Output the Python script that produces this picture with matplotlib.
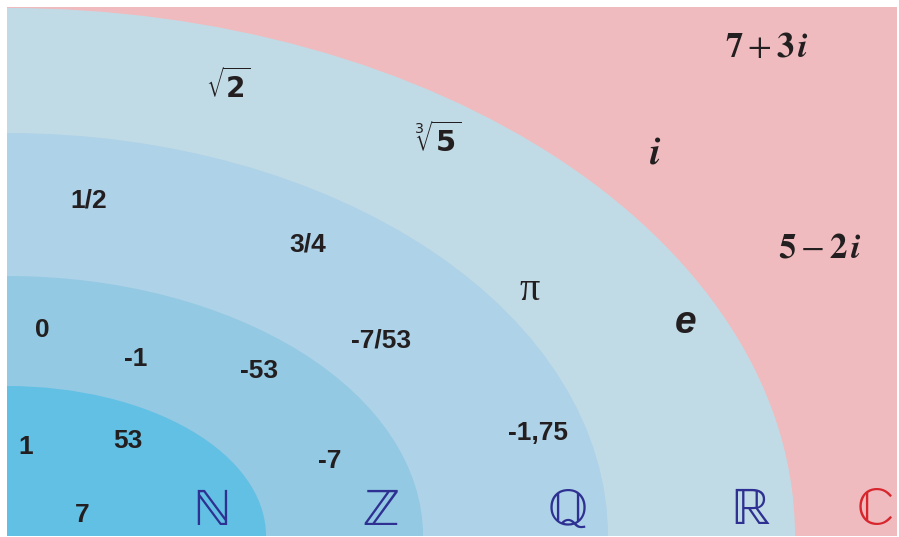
import matplotlib
matplotlib.use("Agg")
import matplotlib.pyplot as plt
from matplotlib.patches import Ellipse, Rectangle

plt.rcParams['mathtext.fontset'] = 'stix'

# ---- data ----
set_symbols = ['ℕ', 'ℤ', 'ℚ', 'ℝ', 'ℂ']
set_semi_x = [259, 416, 601, 788]        # horizontal semi-axes of the nested regions (px)
set_semi_y = [150, 260, 403, 528]        # vertical semi-axes (px)
set_colors = ['#62C0E4', '#93C9E3', '#AED2E8', '#C1DBE6']
outer_color = '#EFBBBE'
symbol_pos = [(212, 525), (381, 525), (568, 525), (751, 524), (875, 524)]
symbol_colors = ['#2E3192', '#2E3192', '#2E3192', '#2E3192', '#D7262E']

number_labels = ['7', '1', '53', '0', '-1', '-53', '-7', '1/2', '3/4', '-7/53', '-1,75']
number_pos = [(82, 522), (26, 454), (128, 448), (42, 337), (136, 366), (259, 378),
              (330, 468), (89, 207), (308, 251), (381, 347), (538, 440)]

# ---- figure ----
fig = plt.figure(figsize=(8.99, 5.37), dpi=100)
ax = fig.add_axes([0, 0, 1, 1])
ax.set_xlim(0, 899)
ax.set_ylim(537, 0)
ax.axis('off')

frame = Rectangle((7, 7), 890, 529, facecolor=outer_color, edgecolor='none', zorder=0)
ax.add_patch(frame)
origin = (7, 536)
for i in range(len(set_semi_x) - 1, -1, -1):
    e = Ellipse(origin, 2 * set_semi_x[i], 2 * set_semi_y[i], facecolor=set_colors[i],
                edgecolor='none', zorder=1 + (len(set_semi_x) - i))
    ax.add_patch(e)
    e.set_clip_path(frame)

for s, (x, y), c in zip(set_symbols, symbol_pos, symbol_colors):
    ax.text(x, y, s, fontsize=38, family=['STIXGeneral', 'DejaVu Serif'], color=c, ha='center',
            va='baseline', zorder=10)

txt_col = '#231F20'
for s, (x, y) in zip(number_labels, number_pos):
    ax.text(x, y, s, fontsize=19, family='Liberation Sans', weight='bold',
            color=txt_col, ha='center', va='baseline', zorder=10)

# irrational / complex labels
ax.text(228, 86, r'$\sqrt{\mathbf{2}}$', fontsize=20, color=txt_col, ha='center', va='center',
        math_fontfamily='dejavusans', zorder=10)
ax.text(438, 140, r'$\sqrt[3]{\mathbf{5}}$', fontsize=21, color=txt_col, ha='center', va='center',
        math_fontfamily='dejavusans', zorder=10)
ax.text(530, 300, 'π', fontsize=29, family='Liberation Serif', color=txt_col,
        ha='center', va='baseline', zorder=10)
ax.text(686, 333, 'e', fontsize=28, family='Liberation Sans', weight='bold', style='italic',
        color=txt_col, ha='center', va='baseline', zorder=10)
ax.text(767, 57, r'$\mathbf{7}+\mathbf{3}\,\mathbfit{i}$', fontsize=25, color=txt_col,
        ha='center', va='baseline', zorder=10)
ax.text(655, 164, r'$\mathbfit{i}$', fontsize=28, color=txt_col, ha='center', va='baseline', zorder=10)
ax.text(820, 258, r'$\mathbf{5}-\mathbf{2}\,\mathbfit{i}$', fontsize=25, color=txt_col,
        ha='center', va='baseline', zorder=10)

fig.savefig('out.png', dpi=100, facecolor='white')
